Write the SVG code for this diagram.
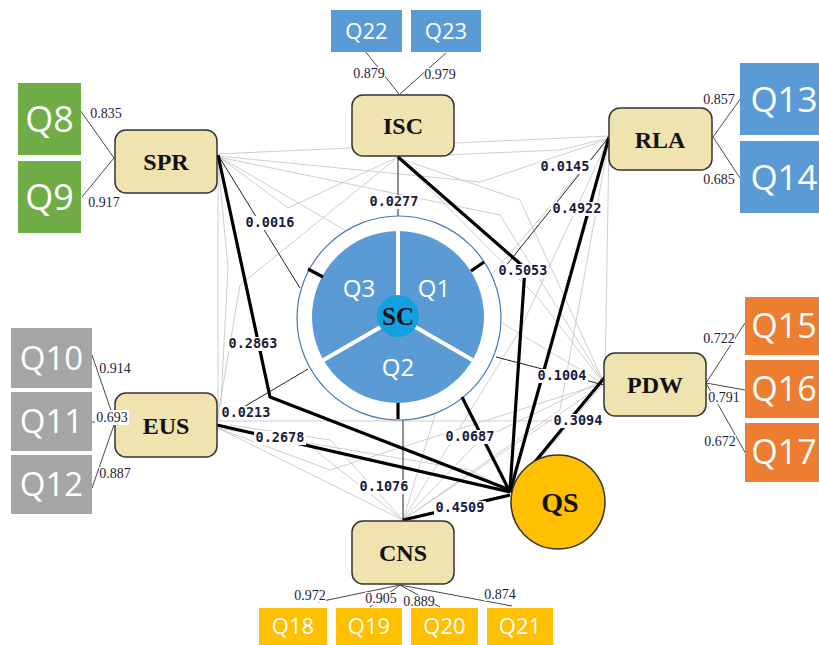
<svg xmlns="http://www.w3.org/2000/svg" width="819" height="645" viewBox="0 0 819 645">
<style>
.node rect{fill:#EFE3B0;stroke:#333;stroke-width:1.5}
.nt{font-family:"Liberation Serif",serif;font-weight:bold;font-size:24px;fill:#111;text-anchor:middle}
.qt{font-family:"Open Sans","Liberation Sans",sans-serif;fill:#fff;text-anchor:middle}
.g{fill:none;stroke:#c8c8c8;stroke-width:0.9}
.thin{fill:none;stroke:#222;stroke-width:1}
.thick{fill:none;stroke:#000;stroke-width:3.2;stroke-linejoin:round}
.ld{fill:none;stroke:#333;stroke-width:0.9}
.cl{font-family:"DejaVu Sans Mono","Liberation Mono",monospace;font-weight:bold;font-size:13.5px;fill:#1c1c3a;text-anchor:middle}
.ll{font-family:"Liberation Serif",serif;font-size:14px;fill:#1c1c3a;text-anchor:middle}
.bg{fill:#fff}
</style>
<rect width="819" height="645" fill="#fff"/>
<g id="connectors">
<g id="web">
<path class="g" d="M218,154 L609,136"/>
<path class="g" d="M218,156 L480,182 L609,139"/>
<path class="g" d="M218,156 L288,208 L398,157"/>
<path class="g" d="M218,157 L500,215 L604,383"/>
<path class="g" d="M218,158 L218,421"/>
<path class="g" d="M218,160 L228,268 L220,420"/>
<path class="g" d="M398,157 L240,285 L217,421"/>
<path class="g" d="M398,157 L560,150 L609,138"/>
<path class="g" d="M398,158 L520,200 L604,383"/>
<path class="g" d="M218,421 L600,421"/>
<path class="g" d="M218,428 L403,520"/>
<path class="g" d="M217,428 L470,470 L512,492"/>
<path class="g" d="M403,520 L290,430"/>
<path class="g" d="M403,520 L330,440 L230,425"/>
<path class="g" d="M403,520 L604,384"/>
<path class="g" d="M403,520 L560,410 L609,140"/>
<path class="g" d="M403,520 L480,440 L604,380"/>
<path class="g" d="M403,520 L520,330 L609,138"/>
<path class="g" d="M604,384 L430,280 L218,156"/>
<path class="g" d="M604,383 L330,470 L217,428"/>
<path class="g" d="M609,140 L605,383"/>
<path class="g" d="M604,383 L512,492"/>
<path class="g" d="M398,157 L540,300 L604,384"/>
<path class="g" d="M609,138 L470,300 L403,520"/>
</g>
<g id="loadings">
<path class="ld" d="M365,51 L399,94"/>
<path class="ld" d="M446,53 L400,94"/>
<path class="ld" d="M80,110 L114,158"/>
<path class="ld" d="M82,197 L114,158"/>
<path class="ld" d="M713,137 L741,98"/>
<path class="ld" d="M713,137 L740,178"/>
<path class="ld" d="M92,355 L115,422"/>
<path class="ld" d="M92,422 L115,422"/>
<path class="ld" d="M92,488 L115,422"/>
<path class="ld" d="M706,383 L745,323"/>
<path class="ld" d="M706,383 L745,390"/>
<path class="ld" d="M706,383 L746,454"/>
<path class="ld" d="M400,585 L318,602"/>
<path class="ld" d="M400,585 L370,607"/>
<path class="ld" d="M400,585 L440,607"/>
<path class="ld" d="M400,585 L512,606"/>
</g>
<g id="paths-thin">
<path class="thin" d="M398,157 L398,216"/>
<path class="thin" d="M218,155 L300,288"/>
<path class="thin" d="M609,137 L497,277"/>
<path class="thin" d="M225,418 L308,369"/>
<path class="thin" d="M403,420 L403,520"/>
<path class="thin" d="M496,357 L604,385"/>
</g>
</g>
<g id="SC">
<circle cx="399" cy="318" r="102" fill="#fff" stroke="#4a78b0" stroke-width="1.2"/>
<circle cx="398" cy="317" r="86" fill="#5B9BD5"/>
<path d="M398,317 L398,231 M398,317 L472.5,360 M398,317 L323.5,360" stroke="#fff" stroke-width="4"/>
<circle cx="398" cy="316" r="21" fill="#12A0E0"/>
<text class="nt" x="398" y="325" style="font-size:25px">SC</text>
<text class="qt" x="434" y="297" style="font-size:24px">Q1</text>
<text class="qt" x="398" y="376" style="font-size:24px">Q2</text>
<text class="qt" x="359" y="297" style="font-size:24px">Q3</text>
<path d="M308,269 L323,277 M471,271 L484,262 M398,403 L398,419" stroke="#000" stroke-width="3.2"/>
</g>
<g id="paths-thick">
<path class="thick" d="M218,155 L270,397 L510,490"/>
<path class="thick" d="M398,157 L525,268 L510,490"/>
<path class="thick" d="M609,137 L510,492"/>
<path class="thick" d="M605,377 L510,492"/>
<path class="thick" d="M217,425 L510,492"/>
<path class="thick" d="M403,520 L510,495"/>
<path class="thick" d="M462,397 L510,492"/>
</g>
<g id="coef-labels">
<rect class="bg" x="368" y="195" width="52" height="14"/><text class="cl" x="394" y="206">0.0277</text>
<rect class="bg" x="244" y="216" width="52" height="14"/><text class="cl" x="270" y="227">0.0016</text>
<rect class="bg" x="539" y="160" width="52" height="14"/><text class="cl" x="565" y="171">0.0145</text>
<rect class="bg" x="551" y="202" width="52" height="14"/><text class="cl" x="577" y="213">0.4922</text>
<rect class="bg" x="497" y="264" width="52" height="14"/><text class="cl" x="523" y="275">0.5053</text>
<rect class="bg" x="227" y="337" width="52" height="14"/><text class="cl" x="253" y="348">0.2863</text>
<rect class="bg" x="220" y="406" width="52" height="14"/><text class="cl" x="246" y="417">0.0213</text>
<rect class="bg" x="254" y="431" width="52" height="14"/><text class="cl" x="280" y="442">0.2678</text>
<rect class="bg" x="536" y="369" width="52" height="14"/><text class="cl" x="562" y="380">0.1004</text>
<rect class="bg" x="552" y="414" width="52" height="14"/><text class="cl" x="578" y="425">0.3094</text>
<rect class="bg" x="444" y="430" width="52" height="14"/><text class="cl" x="470" y="441">0.0687</text>
<rect class="bg" x="358" y="480" width="52" height="14"/><text class="cl" x="384" y="491">0.1076</text>
<rect class="bg" x="434" y="501" width="52" height="14"/><text class="cl" x="460" y="512">0.4509</text>
</g>
<g id="load-labels">
<rect class="bg" x="353" y="67" width="32" height="13"/><text class="ll" x="369" y="78">0.879</text>
<rect class="bg" x="424" y="68" width="32" height="13"/><text class="ll" x="440" y="79">0.979</text>
<rect class="bg" x="90" y="107" width="32" height="13"/><text class="ll" x="106" y="118">0.835</text>
<rect class="bg" x="88" y="196" width="32" height="13"/><text class="ll" x="104" y="207">0.917</text>
<rect class="bg" x="703" y="93" width="32" height="13"/><text class="ll" x="719" y="104">0.857</text>
<rect class="bg" x="703" y="173" width="32" height="13"/><text class="ll" x="719" y="184">0.685</text>
<rect class="bg" x="99" y="362" width="32" height="13"/><text class="ll" x="115" y="373">0.914</text>
<rect class="bg" x="99" y="467" width="32" height="13"/><text class="ll" x="115" y="478">0.887</text>
<rect class="bg" x="703" y="332" width="32" height="13"/><text class="ll" x="719" y="343">0.722</text>
<rect class="bg" x="708" y="391" width="32" height="13"/><text class="ll" x="724" y="402">0.791</text>
<rect class="bg" x="704" y="435" width="32" height="13"/><text class="ll" x="720" y="446">0.672</text>
<rect class="bg" x="294" y="589" width="32" height="13"/><text class="ll" x="310" y="600">0.972</text>
<rect class="bg" x="365" y="592" width="32" height="13"/><text class="ll" x="381" y="603">0.905</text>
<rect class="bg" x="403" y="595" width="32" height="13"/><text class="ll" x="419" y="606">0.889</text>
<rect class="bg" x="484" y="588" width="32" height="13"/><text class="ll" x="500" y="599">0.874</text>
</g>
<g id="ISC" class="node"><rect x="352" y="95" width="102" height="61" rx="11"/><text class="nt" x="403" y="134">ISC</text></g>
<g id="SPR" class="node"><rect x="115" y="130" width="102" height="63" rx="11"/><text class="nt" x="166" y="170">SPR</text></g>
<g id="RLA" class="node"><rect x="609" y="108" width="103" height="62" rx="11"/><text class="nt" x="660" y="148">RLA</text></g>
<g id="EUS" class="node"><rect x="115" y="393" width="102" height="64" rx="11"/><text class="nt" x="166" y="434">EUS</text></g>
<g id="PDW" class="node"><rect x="604" y="353" width="102" height="63" rx="11"/><text class="nt" x="655" y="393">PDW</text></g>
<g id="CNS" class="node"><rect x="352" y="521" width="102" height="63" rx="11"/><text class="nt" x="403" y="561">CNS</text></g>
<g id="label-0693"><rect class="bg" x="95" y="410" width="34" height="15"/><text class="ll" x="112" y="422">0.693</text></g>
<g id="QS"><circle cx="558" cy="502" r="47" fill="#FFC000" stroke="#333" stroke-width="1.5"/><text class="nt" x="560" y="512" style="font-size:28px">QS</text></g>
<g id="Q22"><rect x="331" y="10" width="71" height="42" fill="#5B9BD5"/><text class="qt" x="366.5" y="39" style="font-size:22px">Q22</text></g>
<g id="Q23"><rect x="411" y="10" width="70" height="42" fill="#5B9BD5"/><text class="qt" x="446" y="39" style="font-size:22px">Q23</text></g>
<g id="Q8"><rect x="18" y="83" width="63" height="72" fill="#70AD47"/><text class="qt" x="49.5" y="132" style="font-size:36px">Q8</text></g>
<g id="Q9"><rect x="18" y="161" width="63" height="72" fill="#70AD47"/><text class="qt" x="49.5" y="210" style="font-size:36px">Q9</text></g>
<g id="Q13"><rect x="740" y="63" width="79" height="72" fill="#5B9BD5"/><text class="qt" x="784" y="112" style="font-size:35px">Q13</text></g>
<g id="Q14"><rect x="740" y="141" width="79" height="72" fill="#5B9BD5"/><text class="qt" x="784" y="190" style="font-size:35px">Q14</text></g>
<g id="Q10"><rect x="11" y="328" width="81" height="60" fill="#A5A5A5"/><text class="qt" x="51.5" y="370" style="font-size:33px">Q10</text></g>
<g id="Q11"><rect x="11" y="392" width="81" height="59" fill="#A5A5A5"/><text class="qt" x="51.5" y="433" style="font-size:33px">Q11</text></g>
<g id="Q12"><rect x="11" y="455" width="81" height="59" fill="#A5A5A5"/><text class="qt" x="51.5" y="496" style="font-size:33px">Q12</text></g>
<g id="Q15"><rect x="745" y="297" width="74" height="58" fill="#ED7D31"/><text class="qt" x="784" y="338" style="font-size:34px">Q15</text></g>
<g id="Q16"><rect x="745" y="360" width="74" height="58" fill="#ED7D31"/><text class="qt" x="784" y="401" style="font-size:34px">Q16</text></g>
<g id="Q17"><rect x="745" y="423" width="74" height="59" fill="#ED7D31"/><text class="qt" x="784" y="464" style="font-size:34px">Q17</text></g>
<g id="Q18"><rect x="259" y="608" width="68" height="37" fill="#FFC000"/><text class="qt" x="293" y="634" style="font-size:22px">Q18</text></g>
<g id="Q19"><rect x="336" y="608" width="66" height="37" fill="#FFC000"/><text class="qt" x="369" y="634" style="font-size:22px">Q19</text></g>
<g id="Q20"><rect x="411" y="608" width="67" height="37" fill="#FFC000"/><text class="qt" x="444.5" y="634" style="font-size:22px">Q20</text></g>
<g id="Q21"><rect x="487" y="608" width="66" height="37" fill="#FFC000"/><text class="qt" x="520" y="634" style="font-size:22px">Q21</text></g>
</svg>
